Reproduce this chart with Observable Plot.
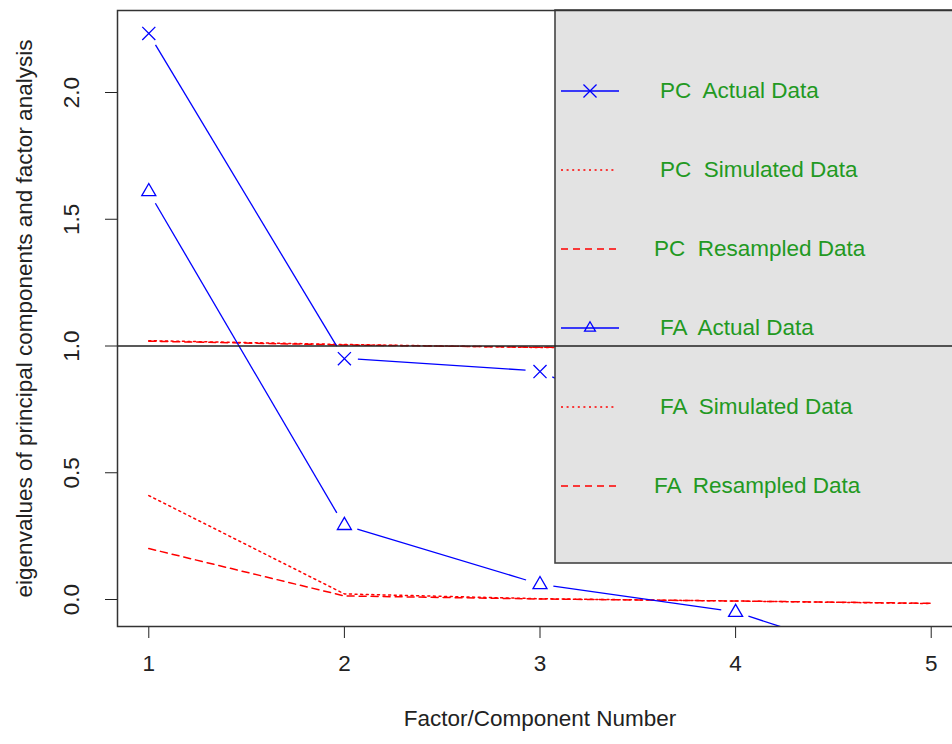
<!DOCTYPE html>
<html><head><meta charset="utf-8">
<script src="https://cdn.jsdelivr.net/npm/d3@7"></script>
<script src="https://cdn.jsdelivr.net/npm/@observablehq/plot@0.6"></script>
<style>body{margin:0;background:#fff}</style>
</head><body><div id="chart"></div>
<script>
// ---- data ----
const factors = [1, 2, 3, 4, 5];
const pcActual    = [2.233, 0.950, 0.899, 0.55, 0.37];
const pcSimulated = [1.021, 1.006, 0.994, 0.990, 0.985];
const pcResampled = [1.019, 1.004, 0.995, 0.989, 0.986];
const faActual    = [1.609, 0.292, 0.059, -0.051, -0.30];
const faSimulated = [0.41, 0.022, 0.003, -0.006, -0.016];
const faResampled = [0.201, 0.014, 0.002, -0.006, -0.015];
const xTicks = [1, 2, 3, 4, 5];
const yTicks = [0, 0.5, 1, 1.5, 2];
const yTickLabels = ["0.0", "0.5", "1.0", "1.5", "2.0"];
const legendLabels = ["PC  Actual Data", "PC  Simulated Data", "PC  Resampled Data",
                      "FA  Actual Data", "FA  Simulated Data", "FA  Resampled Data"];
const xLabel = "Factor/Component Number";
const yLabel = "eigenvalues of principal components and factor analysis";
const referenceLine = [1];

// ---- styles ----
const BLUE = "#0000ff", RED = "#ff0000", GREEN = "#229922", INK = "#222";
const DOTTED = "2,3.6", DASHED = "7,5";
const FONT = '"Liberation Sans", Arial, sans-serif';
const FS = 22.5;
const series = [
  {name: legendLabels[0], values: pcActual,    type: "actual", symbol: "times"},
  {name: legendLabels[1], values: pcSimulated, type: "dotted"},
  {name: legendLabels[2], values: pcResampled, type: "dashed"},
  {name: legendLabels[3], values: faActual,    type: "actual", symbol: "triangle"},
  {name: legendLabels[4], values: faSimulated, type: "dotted"},
  {name: legendLabels[5], values: faResampled, type: "dashed"}
];
const legendTextShift = [0, 0, -6, 0, 0, -6];
const symbolR = {times: 6, triangle: 5.2};
const d3Sym = {times: d3.symbolTimes, triangle: d3.symbolTriangle2};

const rows = series.flatMap(s => s.values.map((v, i) => ({x: factors[i], y: v, name: s.name, type: s.type, symbol: s.symbol})));
const dashedRows = rows.filter(d => d.type === "dashed");
const dottedRows = rows.filter(d => d.type === "dotted");
const timesRows = rows.filter(d => d.symbol === "times");
const triangleRows = rows.filter(d => d.symbol === "triangle");

function pickArgs(args) {
  const scales = args.find(a => a && typeof a.x === "function" && typeof a.y === "function");
  const dims = args.find(a => a && typeof a.marginLeft === "number" && typeof a.width === "number");
  return {scales, dims};
}
let clipCount = 0;
// actual-data lines drawn R "type=b" style (gaps around the points)
function gapLines(gap) {
  return function(...args) {
    const {scales, dims} = pickArgs(args);
    const g = d3.create("svg:g");
    const id = "gapclip" + (clipCount++);
    g.append("clipPath").attr("id", id).append("rect")
      .attr("x", dims.marginLeft).attr("y", dims.marginTop)
      .attr("width", dims.width - dims.marginLeft - dims.marginRight)
      .attr("height", dims.height - dims.marginTop - dims.marginBottom);
    const gg = g.append("g").attr("clip-path", `url(#${id})`);
    for (const s of series.filter(s => s.type === "actual")) {
      const pts = s.values.map((v, i) => [scales.x(factors[i]), scales.y(v)]);
      for (let i = 0; i < pts.length - 1; i++) {
        const [x0, y0] = pts[i], [x1, y1] = pts[i + 1];
        const d = Math.hypot(x1 - x0, y1 - y0);
        if (d <= 2 * gap) continue;
        const ux = (x1 - x0) / d, uy = (y1 - y0) / d;
        gg.append("line")
          .attr("x1", x0 + ux * gap).attr("y1", y0 + uy * gap)
          .attr("x2", x1 - ux * gap).attr("y2", y1 - uy * gap)
          .attr("stroke", BLUE).attr("stroke-width", 1.3);
      }
    }
    return g.node();
  };
}
function legendMark(...args) {
  const {dims} = pickArgs(args);
  const right = dims.width - dims.marginRight;
  const left = right - 407, top = dims.marginTop;
  const g = d3.create("svg:g");
  g.append("rect").attr("x", left).attr("y", top).attr("width", right - left).attr("height", 553)
    .attr("fill", "#e3e3e3").attr("stroke", "#444").attr("stroke-width", 1.6);
  series.forEach((s, i) => {
    const y = top + 81 + 79 * i;
    const line = g.append("line").attr("x1", left + 6).attr("x2", left + 64).attr("y1", y).attr("y2", y)
      .attr("stroke", s.type === "actual" ? BLUE : RED).attr("stroke-width", s.type === "actual" ? 1.3 : 1.5);
    if (s.type === "dotted") line.attr("stroke-dasharray", DOTTED).attr("x2", left + 62);
    if (s.type === "dashed") line.attr("stroke-dasharray", DASHED).attr("x2", left + 62);
    if (s.type === "actual") {
      const r = symbolR[s.symbol];
      g.append("path").attr("transform", `translate(${left + 35},${y})`)
        .attr("d", d3.symbol(d3Sym[s.symbol], r * r * Math.PI)())
        .attr("fill", "none").attr("stroke", BLUE).attr("stroke-width", 1.3);
    }
    g.append("text").attr("x", left + 105 + legendTextShift[i]).attr("y", y).attr("dy", "0.32em")
      .attr("fill", GREEN).attr("font-size", FS).attr("font-family", FONT)
      .attr("text-anchor", "start")
      .style("white-space", "pre").text(s.name);
  });
  return g.node();
}

const chart = Plot.plot({
  width: 952,
  height: 744,
  marginLeft: 117,
  marginRight: -10,
  marginTop: 10,
  marginBottom: 118,
  style: {fontFamily: FONT, fontSize: FS + "px", background: "white", color: INK},
  x: {domain: [0.84, 5.16], ticks: xTicks, tickSize: 12, tickFormat: () => "", label: null},
  y: {domain: [-0.1065, 2.3235], ticks: yTicks, tickSize: 12, tickFormat: () => "", label: null},
  marks: [
    Plot.line(dottedRows, {x: "x", y: "y", z: "name", stroke: RED, strokeWidth: 1.5, strokeDasharray: DOTTED, clip: true}),
    Plot.line(dashedRows, {x: "x", y: "y", z: "name", stroke: RED, strokeWidth: 1.5, strokeDasharray: DASHED, clip: true}),
    gapLines(14),
    Plot.dot(timesRows, {x: "x", y: "y", symbol: "times", r: symbolR.times, stroke: BLUE, strokeWidth: 1.3, fill: "none", clip: true}),
    Plot.dot(triangleRows, {x: "x", y: "y", symbol: "triangle", r: symbolR.triangle, stroke: BLUE, strokeWidth: 1.3, fill: "none", clip: true}),
    legendMark,
    Plot.ruleY(referenceLine, {stroke: INK, strokeWidth: 1.4}),
    Plot.frame({stroke: "#333", strokeWidth: 1.5}),
    Plot.text(xTicks, {x: d => d, text: d => String(d), frameAnchor: "bottom", dy: 44, fontSize: FS, fill: INK}),
    Plot.text(yTicks, {y: d => d, text: (d, i) => yTickLabels[i], frameAnchor: "left", textAnchor: "middle", dx: -46, rotate: -90, fontSize: FS, fill: INK}),
    Plot.text([xLabel], {text: d => d, frameAnchor: "bottom", dy: 99, fontSize: FS, fill: INK}),
    Plot.text([yLabel], {text: d => d, frameAnchor: "left", textAnchor: "middle", dx: -93, rotate: -90, fontSize: FS, fill: INK})
  ]
});
document.getElementById("chart").appendChild(chart);
</script>
</body></html>
